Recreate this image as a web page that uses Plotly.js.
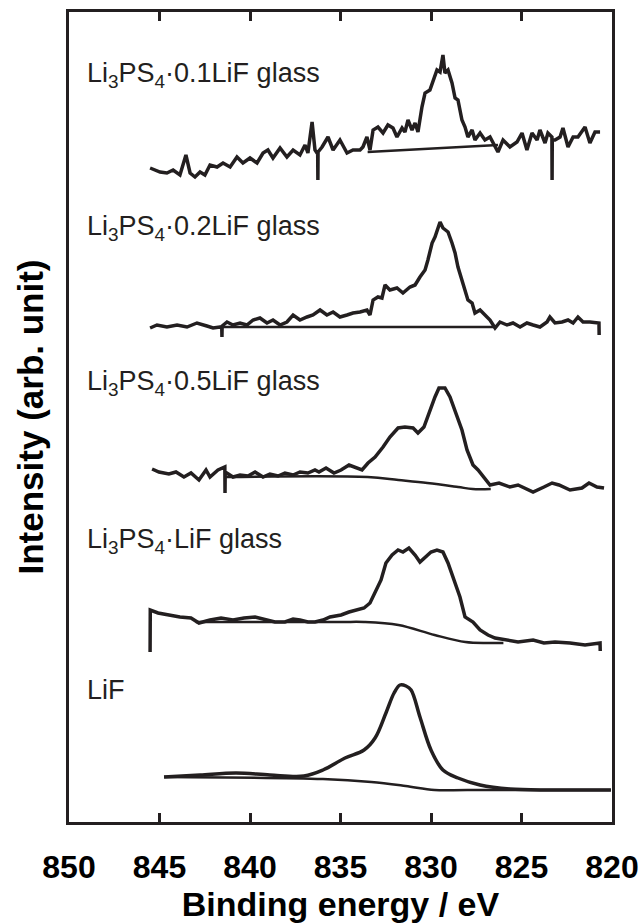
<!DOCTYPE html>
<html>
<head>
<meta charset="utf-8">
<script src="https://cdn.plot.ly/plotly-3.0.1.min.js"></script>
<style>html,body{margin:0;padding:0;background:#fff;}#chart{width:644px;height:924px;}</style>
</head>
<body>
<div id="chart"></div>
<script>
// ---- Data (binding energy in eV, intensity in arbitrary stacked units) ----
const labels = ["Li<sub>3</sub>PS<sub>4</sub>·0.1LiF glass", "Li<sub>3</sub>PS<sub>4</sub>·0.2LiF glass",
                "Li<sub>3</sub>PS<sub>4</sub>·0.5LiF glass", "Li<sub>3</sub>PS<sub>4</sub>·LiF glass", "LiF"];
const tickVals = [850, 845, 840, 835, 830, 825, 820];

// Li3PS4·0.1LiF glass
const e01 = [845.52,844.97,844.59,844.25,843.87,843.54,843.31,843.04,842.76,842.49,842.21,841.82,841.49,841.10,840.72,840.39,840.00,839.61,839.28,839.01,838.73,838.34,837.96,837.62,837.24,836.96,836.80,836.57,836.41,836.26,836.25,836.24,836.02,835.69,835.41,835.03,834.64,834.31,833.92,833.76,833.54,833.37,833.20,832.93,832.65,832.38,832.10,831.88,831.60,831.44,831.27,831.05,830.88,830.72,830.50,830.33,830.06,829.89,829.67,829.50,829.34,829.23,829.06,828.84,828.67,828.51,828.29,828.12,827.96,827.73,827.57,827.29,827.02,826.74,826.57,826.30,826.02,825.64,825.25,824.97,824.70,824.42,824.14,823.98,823.70,823.54,823.32,823.31,823.30,823.15,822.87,822.71,822.43,822.15,821.88,821.49,821.22,820.94,820.66];
const i01 = [654,650,649,652,647,667,649,645,650,647,657,655,659,655,665,659,664,659,669,672,664,674,665,672,667,677,669,700,672,668,642,670,675,685,672,682,669,672,672,675,685,672,692,695,689,697,694,685,694,690,702,692,699,690,715,729,732,740,752,750,767,749,752,739,724,722,702,695,685,692,682,689,682,685,679,670,682,675,680,689,672,689,682,692,679,689,685,642,682,682,685,694,675,685,685,695,679,690,690];
const e01bg = [833.5, 826.3];
const i01bg = [670, 677];

// Li3PS4·0.2LiF glass
const e02 = [845.52,845.14,844.59,844.03,843.48,842.93,842.38,842.04,841.66,841.56,841.55,841.54,841.27,840.94,840.55,840.17,839.83,839.45,839.06,838.73,838.34,837.96,837.62,837.24,836.85,836.52,836.13,835.75,835.41,835.03,834.64,834.31,833.92,833.54,833.37,833.20,832.93,832.71,832.54,832.27,831.88,831.55,831.16,830.88,830.61,830.33,830.17,829.94,829.78,829.50,829.34,829.06,828.84,828.67,828.51,828.29,828.12,827.96,827.73,827.57,827.29,827.02,826.74,826.46,826.19,825.80,825.47,825.08,824.70,824.36,823.98,823.59,823.43,823.15,822.76,822.43,822.15,821.88,821.60,821.22,820.83,820.72,820.71];
const i02 = [494,497,495,497,495,499,496,494,495,495,485,496,500,497,499,497,502,504,499,502,497,500,507,502,505,507,512,507,510,505,507,509,510,512,507,522,525,524,537,532,534,529,535,537,545,552,562,579,585,600,594,590,579,569,555,542,532,522,519,509,512,507,502,494,500,497,499,495,499,497,495,500,505,499,500,502,499,505,500,500,499,499,487];
const e02bg = [841.55, 826.5];
const i02bg = [495, 495];

// Li3PS4·0.5LiF glass
const e05 = [845.41,845.03,844.48,844.09,843.65,843.26,842.82,842.43,842.21,841.77,841.39,841.38,841.37,840.94,840.55,840.11,839.72,839.28,838.90,838.45,838.07,837.62,837.24,836.80,836.41,836.19,835.80,835.36,834.97,834.53,834.14,833.81,833.48,833.09,832.65,832.27,831.82,831.44,830.99,830.72,830.39,830.06,829.78,829.56,829.23,828.95,828.62,828.29,828.01,827.68,827.40,827.07,826.74,826.24,825.64,825.19,824.81,824.36,823.76,823.31,822.93,822.32,821.66,821.27,820.83,820.44];
const i05 = [353,350,348,350,345,349,342,352,345,352,355,329,350,345,347,346,350,345,348,346,349,347,350,349,352,350,354,349,352,357,354,352,359,365,375,385,394,395,394,389,395,412,425,434,434,425,409,392,372,357,352,345,337,339,335,337,334,330,335,339,337,332,334,339,335,334];
const e05bg = [841.38, 833.5, 831.8, 830.2, 828.5, 827.7, 826.7];
const i05bg = [345, 345, 342, 339, 335, 333, 333];

// Li3PS4·LiF glass
const e10 = [845.52,845.51,845.08,844.48,843.87,843.26,842.82,842.21,841.60,840.94,840.33,839.72,839.12,838.62,838.07,837.62,837.24,836.80,836.41,835.97,835.58,834.97,834.53,834.14,833.70,833.37,833.09,832.76,832.49,832.15,831.82,831.55,831.22,830.88,830.61,830.28,830.00,829.67,829.34,829.06,828.73,828.40,828.12,827.68,827.29,826.85,826.46,825.80,825.19,824.36,823.76,823.15,822.32,821.49,820.66,820.65];
const i10 = [170,212,209,207,205,204,199,202,204,202,204,205,202,200,200,203,202,200,200,202,205,207,210,212,214,219,229,242,259,267,272,270,274,267,260,265,270,272,270,259,242,225,205,200,192,187,184,182,180,182,179,180,179,177,179,171];
const e10bg = [843.0, 835.0, 833.7, 831.8, 829.8, 828.1, 826.85, 826.0];
const i10bg = [200, 200, 200, 197, 187, 180, 179, 179];

// LiF
const eLiF = [844.75,842.76,840.77,838.90,837.02,835.97,834.75,833.70,833.09,832.49,832.04,831.71,831.38,831.10,830.61,830.00,829.34,828.51,827.29,825.64,823.43,820.06];
const iLiF = [45,47,49,47,46,52,64,72,84,109,129,137,136,132,105,72,52,44,37,33,32,32];
const eLiFbg = [844.75, 835.97, 833.3, 831.4, 829.8, 828.0, 820.06];
const iLiFbg = [45, 43, 40, 36, 32, 32, 32];

// ---- Build traces ----
const FONT = "Liberation Sans, Arial, Helvetica, sans-serif";
const spec = {color: "#231f20", width: 3.5};
const bg = {color: "#231f20", width: 2.5};
const series = [
  [e01, i01, "linear"], [e01bg, i01bg, "linear"],
  [e02, i02, "linear"], [e02bg, i02bg, "linear"],
  [e05, i05, "linear"], [e05bg, i05bg, "spline"],
  [e10, i10, "linear"], [e10bg, i10bg, "spline"],
  [eLiF, iLiF, "spline"], [eLiFbg, iLiFbg, "spline"]
];
const traces = series.map((s, k) => ({
  x: s[0], y: s[1], type: "scatter", mode: "lines",
  line: Object.assign({shape: s[2]}, k % 2 === 0 ? spec : bg),
  showlegend: false, hoverinfo: "skip"
}));

const labelY = [0.922, 0.733, 0.542, 0.347, 0.163];
const annotations = labels.map((t, k) => ({
  text: t, xref: "paper", yref: "paper", x: 0.03, y: labelY[k],
  xanchor: "left", yanchor: "middle", showarrow: false,
  font: {family: FONT, size: 27, color: "#231f20"}
}));

const layout = {
  width: 644, height: 924,
  margin: {l: 69, r: 32, t: 12, b: 102, pad: 0},
  paper_bgcolor: "#fff", plot_bgcolor: "#fff",
  showlegend: false,
  xaxis: {
    range: [850, 820], tickvals: tickVals, ticktext: tickVals.map(String),
    ticks: "inside", ticklen: 9, tickwidth: 3, tickcolor: "#231f20",
    showline: true, linewidth: 3, linecolor: "#231f20", mirror: "ticks",
    showgrid: false, zeroline: false,
    tickfont: {family: FONT, size: 32, color: "#000", weight: "bold"},
    ticklabelstandoff: 15,
    title: {text: "<b>Binding energy / eV</b>", font: {family: FONT, size: 34, color: "#000"}, standoff: 6}
  },
  yaxis: {
    range: [0, 810], showticklabels: false, ticks: "",
    showline: true, linewidth: 3, linecolor: "#231f20", mirror: true,
    showgrid: false, zeroline: false,
    title: {text: "<b>Intensity (arb. unit)</b>", font: {family: FONT, size: 35, color: "#000"}, standoff: 12}
  },
  annotations: annotations
};

Plotly.newPlot("chart", traces, layout, {staticPlot: true, displayModeBar: false});
</script>
</body>
</html>
